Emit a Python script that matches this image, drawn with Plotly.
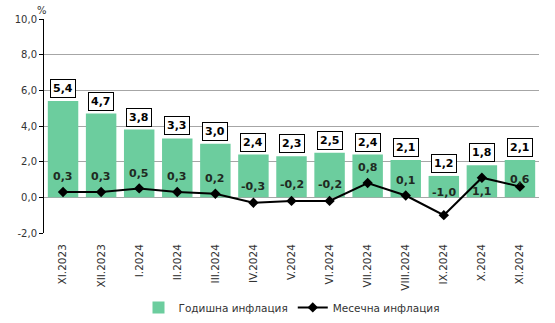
import plotly.graph_objects as go

# Inflation data, Bulgaria, XI.2023 - XI.2024 (%)
months = ["XI.2023", "XII.2023", "I.2024", "II.2024", "III.2024", "IV.2024", "V.2024",
          "VI.2024", "VII.2024", "VIII.2024", "IX.2024", "X.2024", "XI.2024"]
annual = [5.4, 4.7, 3.8, 3.3, 3.0, 2.4, 2.3, 2.5, 2.4, 2.1, 1.2, 1.8, 2.1]
monthly = [0.3, 0.3, 0.5, 0.3, 0.2, -0.3, -0.2, -0.2, 0.8, 0.1, -1.0, 1.1, 0.6]
y_ticks = [-2, 0, 2, 4, 6, 8, 10]

# vertical pixel offsets of the monthly value labels relative to their points
monthly_label_shift = [15, 15, 15, 15, 15, 16, 16, 16, 16, 15, 23, -14, 7]

FONT = "DejaVu Sans"
BAR_COLOR = "#6ccd9e"
x_pos = list(range(len(months)))


def fmt(v):
    return f"{v:.1f}".replace(".", ",")


fig = go.Figure()
fig.add_trace(go.Bar(
    x=x_pos, y=annual, name="Годишна инфлация",
    marker=dict(color=BAR_COLOR, line=dict(width=0)),
))
fig.add_trace(go.Scatter(
    x=x_pos, y=monthly, name="Месечна инфлация", mode="lines+markers",
    line=dict(color="black", width=2),
    marker=dict(symbol="diamond", size=8, color="black"),
))

annotations = []
for xi, v in zip(x_pos, annual):
    annotations.append(dict(
        x=xi, y=v, xref="x", yref="y", text=f"<b>{fmt(v)}</b>", showarrow=False,
        yanchor="bottom", yshift=3, bgcolor="white", bordercolor="black",
        borderwidth=1, borderpad=2, font=dict(family=FONT, size=11, color="black"),
    ))
for xi, v, s in zip(x_pos, monthly, monthly_label_shift):
    annotations.append(dict(
        x=xi, y=v, xref="x", yref="y", text=f"<b>{fmt(v)}</b>", showarrow=False,
        yanchor="middle", yshift=s, font=dict(family=FONT, size=11, color="#1f2a22"),
    ))
annotations.append(dict(
    x=0, y=1, xref="paper", yref="paper", text="%", showarrow=False,
    xanchor="center", yanchor="bottom", xshift=-2, yshift=1,
    font=dict(family=FONT, size=10, color="#333"),
))

fig.update_layout(
    width=555, height=323,
    margin=dict(l=44, r=16, t=19, b=90, autoexpand=False),
    paper_bgcolor="white", plot_bgcolor="white",
    bargap=0.2,
    font=dict(family=FONT, size=10, color="#333"),
    showlegend=True,
    legend=dict(orientation="h", x=0.5, xanchor="center", y=-0.28, yanchor="top",
                font=dict(family=FONT, size=10.5, color="#333"), itemwidth=30,
                tracegroupgap=0),
    annotations=annotations,
    xaxis=dict(
        range=[-0.5, len(months) - 0.5], automargin=False,
        tickmode="array", tickvals=x_pos, ticktext=months,
        tickangle=-90, ticks="", showline=False, showgrid=False, zeroline=False,
        ticklabelstandoff=8,
        tickfont=dict(family=FONT, size=10.5, color="#333"),
    ),
    xaxis2=dict(
        overlaying="x", anchor="free", position=1 / 6,
        range=[-0.5, len(months) - 0.5],
        tickmode="array", tickvals=[i - 0.5 for i in range(len(months) + 1)],
        ticks="outside", ticklen=4, tickcolor="black", tickwidth=1,
        showticklabels=False, showline=True, linecolor="black", linewidth=1,
        showgrid=False, zeroline=False,
    ),
    yaxis=dict(
        range=[-2, 10], automargin=False,
        tickmode="array", tickvals=y_ticks, ticktext=[fmt(t) for t in y_ticks],
        showgrid=True, gridcolor="#a6a6a6", gridwidth=1,
        zeroline=False, showline=True, linecolor="black", linewidth=1,
        ticks="outside", ticklen=4, tickcolor="black",
        tickfont=dict(family=FONT, size=10, color="#333"),
    ),
)

fig.write_html("out.html")
